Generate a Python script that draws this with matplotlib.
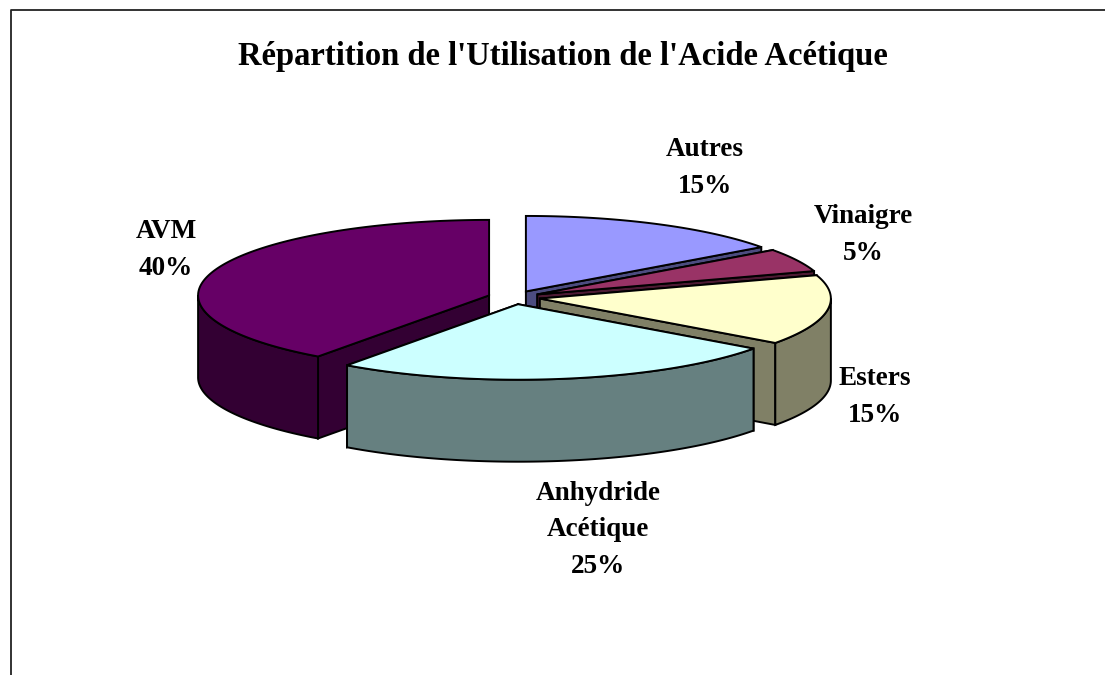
import numpy as np
import matplotlib
matplotlib.use("Agg")
import matplotlib.pyplot as plt

title = "Répartition de l'Utilisation de l'Acide Acétique"
categories = ["Autres", "Vinaigre", "Esters", "AVM", "Anhydride\nAcétique"]
shares = [15, 5, 15, 40, 25]
# slices run clockwise from 12 o'clock in this order
slice_order = ["Autres", "Vinaigre", "Esters", "Anhydride\nAcétique", "AVM"]
slice_shares = [15, 5, 15, 25, 40]
top_colors = ["#9999FF", "#993366", "#FFFFCC", "#CCFFFF", "#660066"]
side_colors = ["#4C4C80", "#4D1A33", "#808066", "#668080", "#330033"]
# back to front
draw_order = [0, 1, 2, 4, 3]

# pie geometry, in pixels
CX, CY = 514, 297.5
RX, RY = 291, 75.5
DEPTH = 82
EXPLODE = 0.09

label_pos = {
    "Autres": (705, 168),
    "Vinaigre": (863, 235),
    "AVM": (166, 250),
    "Esters": (875, 397),
    "Anhydride\nAcétique": (598, 530),
}


def rim(cx, cy, a0, a1):
    """Points on the top ellipse between two clockwise angles from north."""
    a = np.radians(np.linspace(a0, a1, max(2, int(a1 - a0) * 2)))
    return cx + RX * np.sin(a), cy - RY * np.cos(a)


fig = plt.figure(figsize=(11.05, 6.75), dpi=100)
ax = fig.add_axes([0, 0, 1, 1])
ax.set_xlim(0, 1105)
ax.set_ylim(675, 0)
ax.axis("off")

plt.rcParams["font.family"] = ["Liberation Serif", "DejaVu Serif"]

# frame: only the top and left edges are in the picture
ax.plot([10.5, 10.5, 1105], [675, 10, 10], color="#222222", lw=1.3, zorder=1)

bounds = np.cumsum([0] + slice_shares) * 3.6
z = 2
for i in draw_order:
    a0, a1 = bounds[i], bounds[i + 1]
    mid = np.radians((a0 + a1) / 2)
    cx = CX + RX * EXPLODE * np.sin(mid)
    cy = CY - RY * EXPLODE * np.cos(mid)
    xs, ys = rim(cx, cy, a0, a1)

    # radial walls
    for k in (0, -1):
        ax.fill([cx, xs[k], xs[k], cx], [cy, ys[k], ys[k] + DEPTH, cy + DEPTH],
                facecolor=side_colors[i], edgecolor="black", lw=1.4, zorder=z)
    # outer wall, only the part facing the viewer
    w0, w1 = max(a0, 90), min(a1, 270)
    if w1 > w0:
        wx, wy = rim(cx, cy, w0, w1)
        ax.fill(np.r_[wx, wx[::-1]], np.r_[wy, wy[::-1] + DEPTH],
                facecolor=side_colors[i], edgecolor="black", lw=1.4, zorder=z)
    # top face
    ax.fill(np.r_[cx, xs], np.r_[cy, ys],
            facecolor=top_colors[i], edgecolor="black", lw=1.4, zorder=z)
    z += 1

ax.text(563, 56, title, ha="center", va="center", fontsize=23.5,
        fontweight="bold", color="black", zorder=20)

for name, share in zip(categories, shares):
    x, y = label_pos[name]
    ax.text(x, y, f"{name}\n{share}%", ha="center", va="center", fontsize=19.5,
            fontweight="bold", color="black", linespacing=1.62, zorder=20)

fig.savefig("out.png", dpi=100, facecolor="white")
